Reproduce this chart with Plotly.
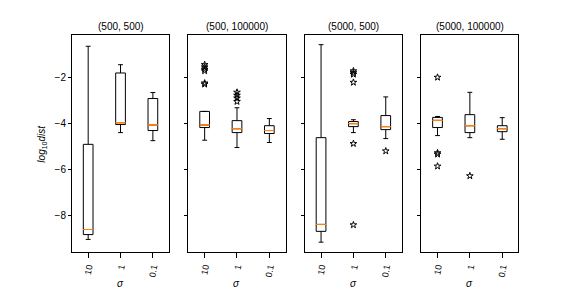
import plotly.graph_objects as go

titles = ["(500, 500)", "(500, 100000)", "(5000, 500)", "(5000, 100000)"]
sigma_labels = ["10", "1", "0.1"]

lowerfence = [[-9.04, -4.40, -4.75], [-4.73, -5.05, -4.83], [-9.16, -4.40, -4.66], [-4.53, -4.62, -4.69]]
q1 = [[-8.83, -4.05, -4.31], [-4.18, -4.40, -4.44], [-8.69, -4.14, -4.27], [-4.18, -4.40, -4.36]]
median = [[-8.61, -3.97, -4.07], [-4.07, -4.23, -4.31], [-8.39, -4.01, -4.14], [-3.87, -4.10, -4.23]]
q3 = [[-4.91, -1.81, -2.92], [-3.48, -3.88, -4.10], [-4.62, -3.92, -3.66], [-3.74, -3.62, -4.10]]
upperfence = [[-0.65, -1.45, -2.66], [-3.48, -3.32, -3.79], [-0.58, -3.84, -2.85], [-3.70, -2.65, -3.75]]
fliers = [
    [[], [], []],
    [[-1.45, -1.55, -1.65, -1.72, -2.25, -2.30], [-2.65, -2.78, -2.90, -3.05], []],
    [[], [-1.72, -1.80, -1.87, -2.22, -4.88, -8.41], [-5.2]],
    [[-2.0, -5.28, -5.34, -5.86], [-6.28], []],
]

W, H = 576, 288
font = "Liberation Sans, Arial, sans-serif"
domains = [[0.125, 0.2935], [0.3272, 0.4957], [0.5293, 0.6978], [0.7315, 0.9]]
ydom = [1 - 252.3 / H, 1 - 35 / H]

fig = go.Figure()
layout = dict(
    width=W, height=H, margin=dict(l=0, r=0, t=0, b=0),
    paper_bgcolor="white", plot_bgcolor="white", showlegend=False,
    boxmode="overlay", font=dict(family=font, size=10, color="black"),
)
annotations = []
for i in range(4):
    ax = "" if i == 0 else str(i + 1)
    xa, ya = "x" + ax, "y" + ax
    fig.add_trace(go.Box(
        x=sigma_labels, q1=q1[i], median=median[i], q3=q3[i],
        lowerfence=lowerfence[i], upperfence=upperfence[i],
        width=0.3, whiskerwidth=0.5, fillcolor="rgba(0,0,0,0)",
        line=dict(color="black", width=1), boxpoints=False,
        xaxis=xa, yaxis=ya, hoverinfo="skip",
    ))
    fig.add_trace(go.Box(
        x=sigma_labels, q1=median[i], median=median[i], q3=median[i],
        lowerfence=median[i], upperfence=median[i],
        width=0.3, whiskerwidth=0, fillcolor="rgba(0,0,0,0)",
        line=dict(color="#ff7f0e", width=1), boxpoints=False,
        xaxis=xa, yaxis=ya, hoverinfo="skip",
    ))
    fx, fy = [], []
    for j, lab in enumerate(sigma_labels):
        for v in fliers[i][j]:
            fx.append(lab)
            fy.append(v)
    fig.add_trace(go.Scatter(
        x=fx, y=fy, mode="markers",
        marker=dict(symbol="star-open", size=5, color="black", line=dict(width=1, color="black")),
        xaxis=xa, yaxis=ya, hoverinfo="skip",
    ))
    layout["xaxis" + ax] = dict(
        domain=domains[i], anchor=ya, type="category",
        categoryorder="array", categoryarray=sigma_labels,
        range=[-0.5, 2.5], showgrid=False, zeroline=False,
        showline=True, mirror=True, linecolor="black", linewidth=1,
        ticks="outside", ticklen=5, tickcolor="black", tickangle=-80,
        tickfont=dict(size=9, family=font, color="black"),
    )
    layout["yaxis" + ax] = dict(
        domain=ydom, anchor=xa, range=[-9.6, -0.16],
        tickvals=[-8, -6, -4, -2], showticklabels=(i == 0),
        showgrid=False, zeroline=False,
        showline=True, mirror=True, linecolor="black", linewidth=1,
        ticks="outside", ticklen=3, tickcolor="black",
        tickfont=dict(size=10, family=font, color="black"),
    )
    cx = (domains[i][0] + domains[i][1]) / 2
    annotations.append(dict(
        text=titles[i], x=cx, y=ydom[1], xref="paper", yref="paper",
        xanchor="center", yanchor="bottom", yshift=1, showarrow=False,
        font=dict(size=10, family=font, color="black"),
    ))
    annotations.append(dict(
        text="<i>σ</i>", x=cx, y=1 - 283 / H, xref="paper", yref="paper",
        xanchor="center", yanchor="middle", showarrow=False,
        font=dict(size=10, family=font, color="black"),
    ))
annotations.append(dict(
    text="<i>log</i><sub>10</sub><i>dist</i>", x=42 / W, y=(ydom[0] + ydom[1]) / 2,
    xref="paper", yref="paper", xanchor="center", yanchor="middle",
    textangle=-90, showarrow=False, font=dict(size=10, family=font, color="black"),
))
layout["annotations"] = annotations
fig.update_layout(**layout)
fig.write_html("out.html", config={"displayModeBar": False},
               post_script="document.body.style.margin='0';")
